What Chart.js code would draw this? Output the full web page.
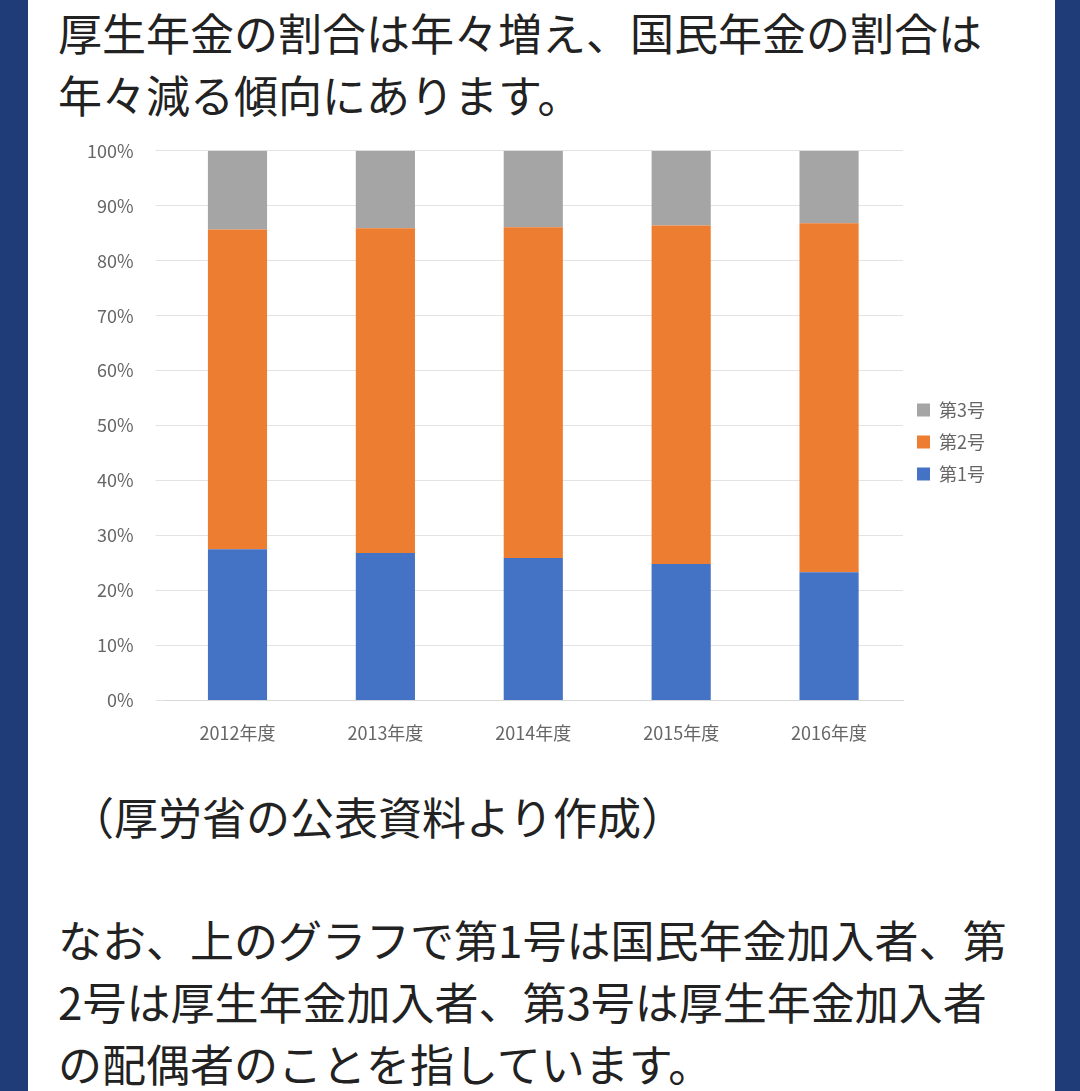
<!DOCTYPE html>
<html><head><meta charset="utf-8">
<script src="https://cdn.jsdelivr.net/npm/chart.js@4"></script>
<style>
  html,body{margin:0;padding:0;width:1080px;height:1091px;overflow:hidden;background:#1f3b78;}
  #panel{position:absolute;left:28px;top:0;width:1027px;height:1091px;background:#fff;
    font-family:"Noto Sans CJK JP",sans-serif;color:#222;}
  .t{position:absolute;left:30px;font-size:44px;line-height:62px;margin:0;white-space:nowrap;}
  #wrap{position:absolute;left:37px;top:118px;width:980px;height:640px;}
</style></head>
<body>
<div id="panel">
  <p class="t" style="top:1px">厚生年金の割合は年々増え、国民年金の割合は<br>年々減る傾向にあります。</p>
  <div id="wrap"><canvas id="c"></canvas></div>
  <p class="t" style="top:785px;left:42px">（厚労省の公表資料より作成）</p>
  <p class="t" style="top:908px">なお、上のグラフで第1号は国民年金加入者、第<br>2号は厚生年金加入者、第3号は厚生年金加入者<br>の配偶者のことを指しています。</p>
</div>
<script>
/* data (share of insured, %) */
const years = ['2012年度', '2013年度', '2014年度', '2015年度', '2016年度'];
const no1   = [27.5, 26.8, 25.9, 24.8, 23.3];
const no2   = [58.2, 59.1, 60.2, 61.6, 63.5];
const no3   = [14.3, 14.1, 13.9, 13.6, 13.2];

const font = { family: '"Noto Sans CJK JP", sans-serif', size: 18 };

new Chart(document.getElementById('c'), {
  type: 'bar',
  data: {
    labels: years,
    datasets: [
      { label: '第1号', data: no1, backgroundColor: '#4472c4' },
      { label: '第2号', data: no2, backgroundColor: '#ed7d31' },
      { label: '第3号', data: no3, backgroundColor: '#a5a5a5' }
    ]
  },
  options: {
    responsive: true, maintainAspectRatio: false, animation: false,
    layout: { padding: { top: 8, right: 50, left: 0, bottom: 0 } },
    datasets: { bar: { barPercentage: 0.4, categoryPercentage: 1 } },
    plugins: {
      legend: {
        position: 'right', reverse: true,
        labels: { boxWidth: 13, boxHeight: 13, padding: 14, color: '#666', font }
      },
      tooltip: { enabled: false }
    },
    scales: {
      x: {
        stacked: true,
        grid: { display: false },
        border: { color: '#d9d9d9' },
        ticks: { color: '#666', font, padding: 14 }
      },
      y: {
        stacked: true, min: 0, max: 100,
        border: { display: false },
        grid: { color: '#e3e3e3' },
        ticks: { stepSize: 10, color: '#666', font, padding: 22, callback: v => v + '%' }
      }
    }
  }
});
</script>
</body></html>
